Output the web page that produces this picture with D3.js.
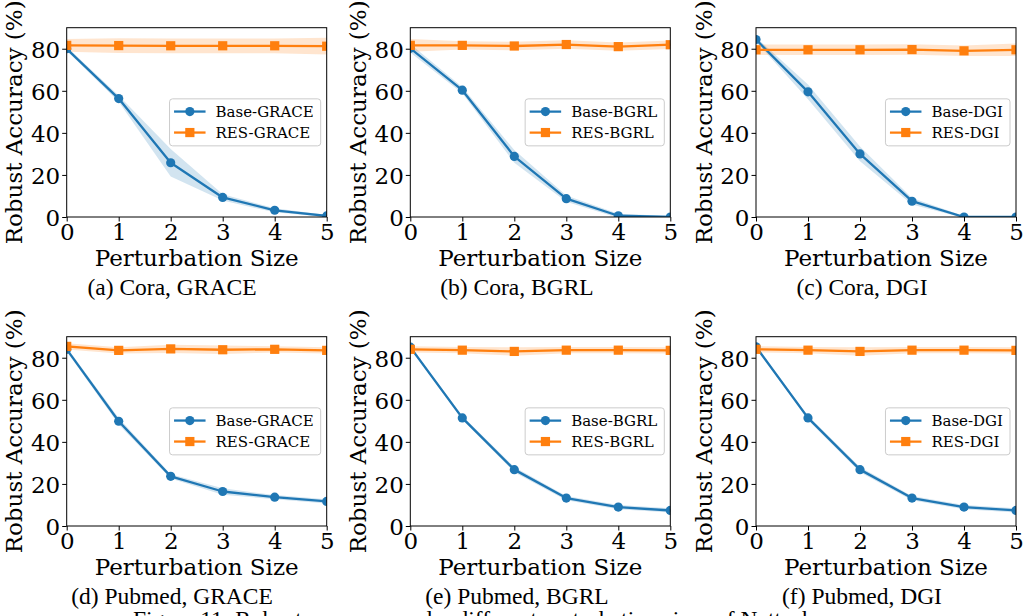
<!DOCTYPE html>
<html>
<head>
<meta charset="utf-8">
<script src="https://cdn.jsdelivr.net/npm/d3@7"></script>
<style>
  html, body { margin: 0; padding: 0; background: #fff; }
  svg { display: block; }
</style>
</head>
<body>
<script>
// ---------------- DATA ----------------
const perturbation = [0, 1, 2, 3, 4, 5];
const xTicks = [0, 1, 2, 3, 4, 5];
const yTicks = [0, 20, 40, 60, 80];
const captions = ["(a) Cora, GRACE", "(b) Cora, BGRL", "(c) Cora, DGI",
                  "(d) Pubmed, GRACE", "(e) Pubmed, BGRL", "(f) Pubmed, DGI"];
const methods = ["GRACE", "BGRL", "DGI", "GRACE", "BGRL", "DGI"];
const figureCaption = "Figure 11: Robust accuracy under different perturbation sizes of Nettack.";

// (a) Cora, GRACE
const coraGraceBase    = [80.0, 56.3, 25.8, 9.3, 3.2, 0.5];
const coraGraceBaseStd = [1.0, 1.5, 6.5, 1.5, 1.0, 0.5];
const coraGraceRes     = [81.6, 81.5, 81.4, 81.4, 81.4, 81.2];
const coraGraceResStd  = [3.0, 3.5, 3.5, 3.5, 3.5, 4.0];
// (b) Cora, BGRL
const coraBgrlBase     = [80.2, 60.3, 28.8, 8.7, 0.6, 0.0];
const coraBgrlBaseStd  = [2.0, 1.5, 3.0, 1.5, 1.0, 0.5];
const coraBgrlRes      = [81.6, 81.6, 81.3, 82.0, 81.0, 81.9];
const coraBgrlResStd   = [3.0, 2.0, 2.0, 2.0, 2.0, 2.0];
// (c) Cora, DGI
const coraDgiBase      = [84.4, 59.5, 30.0, 7.5, 0.0, 0.0];
const coraDgiBaseStd   = [1.0, 3.5, 3.5, 1.5, 0.5, 0.3];
const coraDgiRes       = [79.5, 79.5, 79.5, 79.6, 79.0, 79.5];
const coraDgiResStd    = [2.5, 2.5, 2.5, 2.5, 2.5, 3.0];
// (d) Pubmed, GRACE
const pubGraceBase     = [84.0, 49.8, 23.6, 16.4, 13.7, 11.7];
const pubGraceBaseStd  = [1.0, 1.5, 1.0, 1.5, 1.0, 1.0];
const pubGraceRes      = [85.4, 83.5, 84.2, 83.8, 84.0, 83.5];
const pubGraceResStd   = [1.5, 1.5, 2.0, 2.0, 1.5, 1.5];
// (e) Pubmed, BGRL
const pubBgrlBase      = [85.0, 51.4, 26.8, 13.3, 9.0, 7.4];
const pubBgrlBaseStd   = [0.5, 1.0, 1.2, 1.0, 1.0, 1.0];
const pubBgrlRes       = [84.0, 83.6, 83.0, 83.6, 83.6, 83.5];
const pubBgrlResStd    = [1.5, 1.5, 2.0, 1.5, 1.5, 1.5];
// (f) Pubmed, DGI
const pubDgiBase       = [85.2, 51.4, 26.8, 13.3, 9.0, 7.4];
const pubDgiBaseStd    = [0.5, 1.0, 1.2, 1.0, 1.0, 1.0];
const pubDgiRes        = [84.0, 83.6, 83.0, 83.6, 83.6, 83.5];
const pubDgiResStd     = [1.5, 1.5, 2.0, 1.5, 1.5, 1.5];

const baseMeans = [coraGraceBase, coraBgrlBase, coraDgiBase, pubGraceBase, pubBgrlBase, pubDgiBase];
const baseStds  = [coraGraceBaseStd, coraBgrlBaseStd, coraDgiBaseStd, pubGraceBaseStd, pubBgrlBaseStd, pubDgiBaseStd];
const resMeans  = [coraGraceRes, coraBgrlRes, coraDgiRes, pubGraceRes, pubBgrlRes, pubDgiRes];
const resStds   = [coraGraceResStd, coraBgrlResStd, coraDgiResStd, pubGraceResStd, pubBgrlResStd, pubDgiResStd];

// ---------------- LAYOUT ----------------
const WIDTH = 1026, HEIGHT = 616;
const lefts = [66.7, 410.3, 756];
const tops = [27.7, 336.7];
const PW = 260, PH = 189.3;
const captionCenters = [172, 517, 862];
const BLUE = "#1f77b4", ORANGE = "#ff7f0e";
const SERIF = "DejaVu Serif";
const TIMES = "Liberation Serif";
const AXFS = 23;

const svg = d3.select("body").append("svg")
  .attr("width", WIDTH).attr("height", HEIGHT)
  .attr("viewBox", `0 0 ${WIDTH} ${HEIGHT}`);
svg.append("rect").attr("width", WIDTH).attr("height", HEIGHT).attr("fill", "#fff");

const defs = svg.append("defs");

captions.forEach((cap, i) => {
  const col = i % 3, row = Math.floor(i / 3);
  const L = lefts[col], T = tops[row];
  const x = d3.scaleLinear().domain([0, 5]).range([L, L + PW]);
  const y = d3.scaleLinear().domain([0, 90]).range([T + PH, T]);

  const clipId = "clip" + i;
  defs.append("clipPath").attr("id", clipId)
    .append("rect").attr("x", L).attr("y", T).attr("width", PW).attr("height", PH);

  const g = svg.append("g");
  const plot = g.append("g").attr("clip-path", `url(#${clipId})`);

  const series = [
    { mean: baseMeans[i], std: baseStds[i], color: BLUE, marker: "circle", name: "Base-" + methods[i] },
    { mean: resMeans[i], std: resStds[i], color: ORANGE, marker: "square", name: "RES-" + methods[i] }
  ];

  const area = d3.area()
    .x((d, k) => x(perturbation[k]))
    .y0(d => y(d[0]))
    .y1(d => y(d[1]));
  const line = d3.line()
    .x((d, k) => x(perturbation[k]))
    .y(d => y(d));

  series.forEach(s => {
    const bounds = s.mean.map((m, k) => [m - s.std[k], m + s.std[k]]);
    plot.append("path").attr("d", area(bounds))
      .attr("fill", s.color).attr("fill-opacity", 0.2).attr("stroke", "none");
  });
  series.forEach(s => {
    plot.append("path").attr("d", line(s.mean))
      .attr("fill", "none").attr("stroke", s.color).attr("stroke-width", 2.3)
      .attr("stroke-linejoin", "round").attr("stroke-linecap", "square");
    if (s.marker === "circle") {
      plot.selectAll(null).data(s.mean).enter().append("circle")
        .attr("cx", (d, k) => x(perturbation[k])).attr("cy", d => y(d))
        .attr("r", 4.6).attr("fill", s.color);
    } else {
      plot.selectAll(null).data(s.mean).enter().append("rect")
        .attr("x", (d, k) => x(perturbation[k]) - 4.6).attr("y", d => y(d) - 4.6)
        .attr("width", 9.2).attr("height", 9.2).attr("fill", s.color);
    }
  });

  // axes
  const xAxis = g.append("g").attr("transform", `translate(0,${T + PH})`)
    .call(d3.axisBottom(x).tickValues(xTicks).tickFormat(d3.format("d")).tickSize(4.5).tickPadding(2));
  const yAxis = g.append("g").attr("transform", `translate(${L},0)`)
    .call(d3.axisLeft(y).tickValues(yTicks).tickFormat(d3.format("d")).tickSize(4.5).tickPadding(2));
  [xAxis, yAxis].forEach(a => {
    a.attr("font-family", SERIF).attr("font-size", AXFS);
    a.select(".domain").remove();
    a.selectAll(".tick line").attr("stroke", "#000").attr("stroke-width", 1);
    a.selectAll(".tick text").style("font-family", SERIF).style("font-size", AXFS + "px").attr("fill", "#000");
  });
  yAxis.selectAll(".tick text").attr("dy", "0.36em");
  xAxis.selectAll(".tick text").attr("dy", "0.72em");

  // frame
  g.append("rect").attr("x", L).attr("y", T).attr("width", PW).attr("height", PH)
    .attr("fill", "none").attr("stroke", "#000").attr("stroke-width", 1);

  // axis labels
  g.append("text").attr("x", L + PW / 2).attr("y", T + PH + 49)
    .attr("text-anchor", "middle").style("font-family", SERIF).style("font-size", AXFS + "px")
    .text("Perturbation Size");
  g.append("text")
    .attr("transform", `translate(${L - 44.5},${T + PH / 2}) rotate(-90)`)
    .attr("text-anchor", "middle").style("font-family", SERIF).style("font-size", AXFS + "px")
    .text("Robust Accuracy (%)");

  // legend
  const leg = g.append("g");
  const box = leg.append("rect").attr("rx", 3).attr("ry", 3)
    .attr("fill", "#fff").attr("fill-opacity", 0.8).attr("stroke", "#cccccc").attr("stroke-width", 1);
  const texts = [];
  series.forEach((s, k) => {
    const r = leg.append("g").attr("class", "row");
    texts.push(r.append("text").style("font-family", SERIF).style("font-size", "15px")
      .attr("dy", "0.35em").text(s.name));
  });
  const tw = d3.max(texts, t => t.node().getComputedTextLength());
  const boxW = 46 + tw + 7, boxH = 47;
  const bx = L + PW - 6 - boxW, by = T + PH / 2 - boxH / 2;
  box.attr("x", bx).attr("y", by).attr("width", boxW).attr("height", boxH);
  leg.selectAll("g.row").each(function(_, k) {
    const s = series[k];
    const r = d3.select(this);
    const cy = by + 12.7 + k * 21;
    r.insert("line", "text").attr("x1", bx + 4.5).attr("x2", bx + 36).attr("y1", cy).attr("y2", cy)
      .attr("stroke", s.color).attr("stroke-width", 2.3);
    if (s.marker === "circle") {
      r.insert("circle", "text").attr("cx", bx + 20.3).attr("cy", cy).attr("r", 4.6).attr("fill", s.color);
    } else {
      r.insert("rect", "text").attr("x", bx + 20.3 - 4.6).attr("y", cy - 4.6)
        .attr("width", 9.2).attr("height", 9.2).attr("fill", s.color);
    }
    r.select("text").attr("x", bx + 46).attr("y", cy);
  });

  // sub-caption
  svg.append("text").attr("x", captionCenters[col]).attr("y", T + PH + 78 - 0.3)
    .attr("text-anchor", "middle").style("font-family", TIMES).style("font-size", "23.5px")
    .text(cap);
});

svg.append("text").attr("x", 133).attr("y", 627)
  .style("font-family", TIMES).style("font-size", "23.5px")
  .text(figureCaption);
</script>
</body>
</html>
